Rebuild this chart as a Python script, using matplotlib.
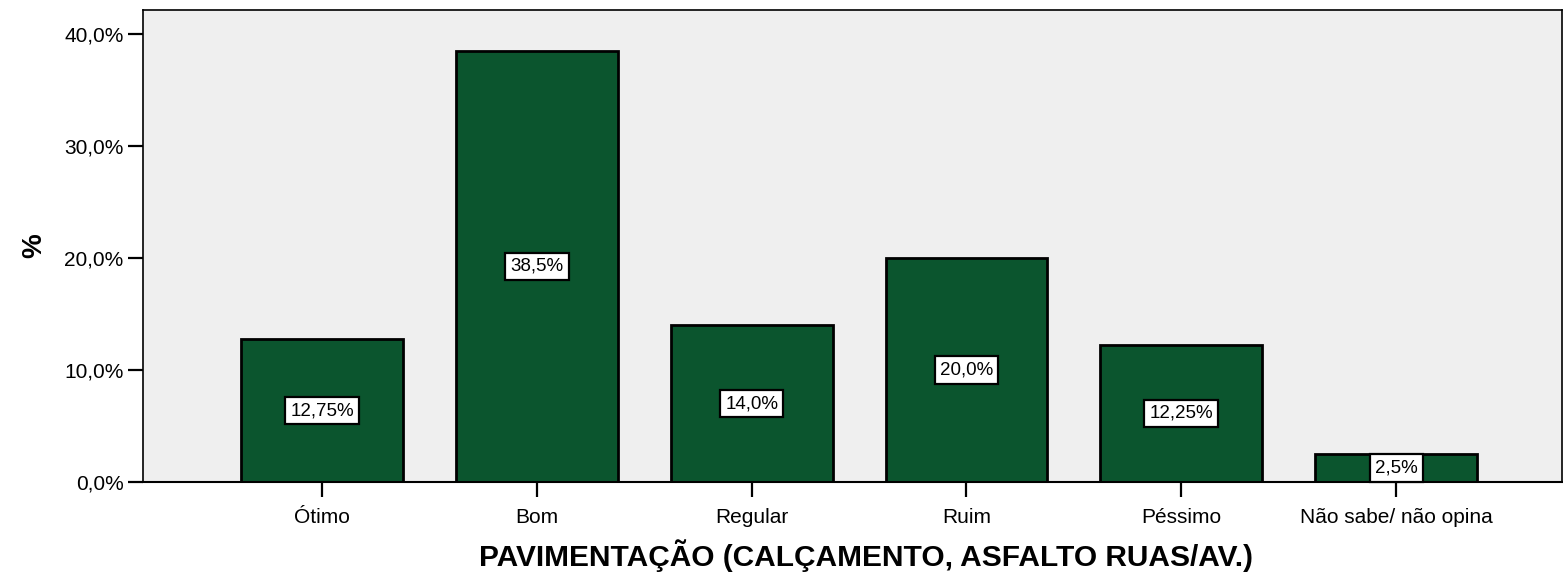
import matplotlib
matplotlib.use("Agg")
import matplotlib.pyplot as plt

categories = ["Ótimo", "Bom", "Regular", "Ruim", "Péssimo", "Não sabe/ não opina"]
values = [12.75, 38.5, 14.0, 20.0, 12.25, 2.5]
value_labels = ["12,75%", "38,5%", "14,0%", "20,0%", "12,25%", "2,5%"]
yticks = [0, 10, 20, 30, 40]
ytick_labels = ["0,0%", "10,0%", "20,0%", "30,0%", "40,0%"]

plt.rcParams["font.family"] = ["Liberation Sans", "DejaVu Sans"]

fig = plt.figure(figsize=(15.63, 5.76), dpi=100)
ax = fig.add_axes([143 / 1563, 1 - 482 / 576, (1562 - 143) / 1563, (482 - 10) / 576])
ax.set_facecolor("#EFEFEF")

x = list(range(len(categories)))
ax.bar(x, values, width=0.753, color="#0B552E", edgecolor="black", linewidth=2, zorder=2)
for xi, v, lab in zip(x, values, value_labels):
    ax.text(xi, v / 2, lab, ha="center", va="center", fontsize=13.5, zorder=3,
            bbox=dict(boxstyle="square,pad=0.28", facecolor="white", edgecolor="black", linewidth=1.6))

ax.set_xlim(-0.833, 5.772)
ax.set_ylim(0, 42.14)
ax.set_yticks(yticks)
ax.set_yticklabels(ytick_labels, fontsize=15)
ax.set_xticks(x)
ax.set_xticklabels(categories, fontsize=15)
ax.tick_params(axis="both", direction="out", length=11, width=1.6, color="black")
ax.tick_params(axis="x", pad=8)
ax.tick_params(axis="y", pad=3)
for s in ax.spines.values():
    s.set_linewidth(1.2)
ax.spines["bottom"].set_linewidth(1.5)

ax.set_xlabel("PAVIMENTAÇÃO (CALÇAMENTO, ASFALTO RUAS/AV.)", fontsize=21.5, fontweight="bold")
ax.xaxis.set_label_coords(0.5095, -0.122)
ax.set_ylabel("%", fontsize=20, fontweight="bold", labelpad=12)

fig.savefig("out.png", dpi=100)
